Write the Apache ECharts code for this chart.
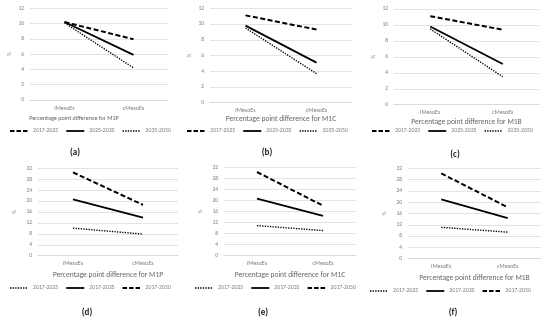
<!DOCTYPE html>
<html><head><meta charset="utf-8">
<script src="https://cdn.jsdelivr.net/npm/echarts@6/dist/echarts.min.js"></script>
<style>html,body{margin:0;padding:0;background:#fff}#c{width:550px;height:321px}</style>
</head><body><div id="c"></div>
<script>
// ---- data ----
const categories = ['iMesoEs', 'cMesoEs'];
const topNames = ['2017-2025', '2025-2035', '2035-2050'];
const bottomNames = ['2017-2025', '2017-2035', '2017-2050'];
const panelTitles = ['Percentage point difference for M1P', 'Percentage point difference for M1C', 'Percentage point difference for M1B',
                     'Percentage point difference for M1P', 'Percentage point difference for M1C', 'Percentage point difference for M1B'];
const panelLabels = ['(a)', '(b)', '(c)', '(d)', '(e)', '(f)'];
const topTicks = [0, 2, 4, 6, 8, 10, 12];
const bottomTicks = [0, 4, 8, 12, 16, 20, 24, 28, 32];

// top row: [2017-2025, 2025-2035, 2035-2050]
const a2017_2025 = [10.2, 7.95];
const a2025_2035 = [10.2, 5.9];
const a2035_2050 = [10.1, 4.2];
const b2017_2025 = [11.1, 9.3];
const b2025_2035 = [9.8, 5.1];
const b2035_2050 = [9.5, 3.7];
const c2017_2025 = [11.1, 9.4];
const c2025_2035 = [9.8, 5.1];
const c2035_2050 = [9.5, 3.5];
// bottom row: [2017-2025, 2017-2035, 2017-2050]
const d2017_2025 = [10.1, 7.9];
const d2017_2035 = [20.6, 13.9];
const d2017_2050 = [30.5, 18.6];
const e2017_2025 = [10.9, 9.1];
const e2017_2035 = [20.7, 14.4];
const e2017_2050 = [30.3, 18.1];
const f2017_2025 = [11.1, 9.4];
const f2017_2035 = [21.0, 14.4];
const f2017_2050 = [30.2, 18.2];

// ---- layout ----
const grids = [
  {left: 30, top: 8.3, width: 138, height: 91.7},
  {left: 210, top: 8.3, width: 142, height: 94.4},
  {left: 394, top: 9, width: 145, height: 95.7},
  {left: 38, top: 168.3, width: 140, height: 87.4},
  {left: 224, top: 167.3, width: 132, height: 88.4},
  {left: 408, top: 168.3, width: 133, height: 90.4}
];
const titleStyle = [
  {size: 6.1, gap: 15, padRight: 50},
  {size: 7.5, gap: 12, padRight: 0},
  {size: 7.5, gap: 13.5, padRight: 0},
  {size: 7.5, gap: 15.5, padRight: 0},
  {size: 7.5, gap: 15.5, padRight: 0},
  {size: 7.5, gap: 15.5, padRight: 0}
];
const legendPos = [
  {left: 10, top: 127}, {left: 187, top: 127}, {left: 372, top: 127},
  {left: 10, top: 284}, {left: 195, top: 284}, {left: 370, top: 287}
];
const labelPos = [[75, 148], [267, 148], [455, 150], [87, 308], [263, 308], [453, 308]];

const seriesData = [
  [[topNames[0], a2017_2025, 'dashed'], [topNames[1], a2025_2035, 'solid'], [topNames[2], a2035_2050, 'dotted']],
  [[topNames[0], b2017_2025, 'dashed'], [topNames[1], b2025_2035, 'solid'], [topNames[2], b2035_2050, 'dotted']],
  [[topNames[0], c2017_2025, 'dashed'], [topNames[1], c2025_2035, 'solid'], [topNames[2], c2035_2050, 'dotted']],
  [[bottomNames[0], d2017_2025, 'dotted'], [bottomNames[1], d2017_2035, 'solid'], [bottomNames[2], d2017_2050, 'dashed']],
  [[bottomNames[0], e2017_2025, 'dotted'], [bottomNames[1], e2017_2035, 'solid'], [bottomNames[2], e2017_2050, 'dashed']],
  [[bottomNames[0], f2017_2025, 'dotted'], [bottomNames[1], f2017_2035, 'solid'], [bottomNames[2], f2017_2050, 'dashed']]
];

const styleFor = {
  dashed: {type: [5, 2.5], width: 2},
  solid: {type: 'solid', width: 1.8},
  dotted: {type: [1.3, 1.3], width: 1.4}
};
// legend icons as paths (an 18x8 box; zero-size subpaths pin the box)
const box = 'M0 0L0 0M18 8L18 8';
const iconFor = {
  dashed: 'path://' + box + 'M0 3H4.5V5H0ZM6.5 3H11V5H6.5ZM13 3H17.5V5H13Z',
  solid: 'path://' + box + 'M0 3.1H18V4.9H0Z',
  dotted: 'path://' + box + [0, 2.6, 5.2, 7.8, 10.4, 13, 15.6].map(x => 'M' + x + ' 3.3H' + (x + 1.4) + 'V4.7H' + x + 'Z').join('')
};

const FONT = 'Calibri, "Liberation Sans", "DejaVu Sans", sans-serif';
const option = {
  backgroundColor: '#fff',
  animation: false,
  grid: grids.map(g => Object.assign({containLabel: false}, g)),
  xAxis: grids.map((g, i) => ({
    type: 'category', gridIndex: i, data: categories, boundaryGap: true,
    axisLine: {lineStyle: {color: '#d9d9d9', width: 1}},
    axisTick: {show: false},
    axisLabel: {fontSize: 6, color: '#808080', margin: 5, fontFamily: FONT},
    name: panelTitles[i], nameLocation: 'middle', nameGap: titleStyle[i].gap,
    nameTextStyle: {fontSize: titleStyle[i].size, color: '#666', fontFamily: FONT,
                    padding: [0, titleStyle[i].padRight, 0, 0]}
  })),
  yAxis: grids.map((g, i) => {
    const ticks = i < 3 ? topTicks : bottomTicks;
    return {
      type: 'value', gridIndex: i, min: ticks[0], max: ticks[ticks.length - 1], interval: ticks[1] - ticks[0],
      axisLine: {show: false}, axisTick: {show: false},
      splitLine: {lineStyle: {color: '#e3e3e3', width: 1}},
      axisLabel: {fontSize: 5.5, color: '#808080', margin: 6, fontFamily: FONT},
      name: '%', nameLocation: 'middle', nameRotate: 90, nameGap: i < 3 ? 17 : 20,
      nameTextStyle: {fontSize: 5.5, color: '#808080', fontFamily: FONT}
    };
  }),
  legend: legendPos.map((p, i) => ({
    left: p.left, top: p.top, orient: 'horizontal', padding: 0,
    itemWidth: 18, itemHeight: 8, itemGap: 8,
    data: seriesData[i].map(s => ({name: i + '|' + s[0], icon: iconFor[s[2]], itemStyle: {color: '#000', borderWidth: 0}})),
    formatter: n => n.split('|')[1],
    textStyle: {fontSize: 5.8, color: '#808080', fontFamily: FONT},
    selectedMode: false
  })),
  title: labelPos.map((p, i) => ({
    text: panelLabels[i], left: p[0], top: p[1], textAlign: 'center', padding: 0,
    textStyle: {fontSize: 9, fontWeight: 'bold', color: '#222', fontFamily: FONT}
  })),
  series: []
};
seriesData.forEach((panel, i) => {
  panel.forEach(s => {
    option.series.push({
      type: 'line', name: i + '|' + s[0], xAxisIndex: i, yAxisIndex: i,
      data: s[1], symbol: 'none', showSymbol: false,
      lineStyle: Object.assign({color: '#000'}, styleFor[s[2]]),
      itemStyle: {color: '#000'}
    });
  });
});
const chart = echarts.init(document.getElementById('c'), null, {renderer: 'canvas'});
chart.setOption(option);
</script></body></html>
